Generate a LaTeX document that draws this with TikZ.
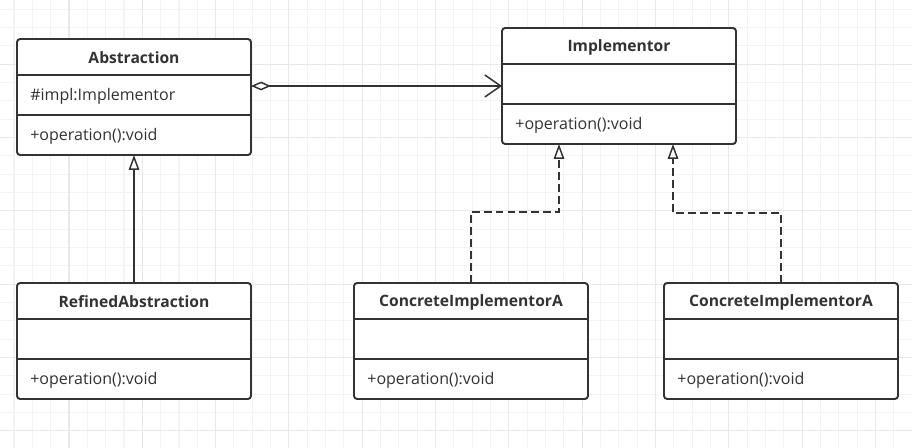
\documentclass[tikz,border=0pt]{standalone}
\usepackage{fontspec}
\setmainfont{Open Sans}
\usepackage{xcolor}
\usetikzlibrary{arrows.meta,positioning,calc}
\definecolor{inkc}{HTML}{333333}
\definecolor{gridminor}{HTML}{F3F3F3}
\definecolor{gridmajor}{HTML}{E8E8E8}
\newlength{\px}\setlength{\px}{0.02cm}

\tikzset{
  classbox/.style={draw=inkc, line width=1.1pt, rounded corners=1.8pt, fill=white,
    minimum width=234\px, minimum height=116\px, inner sep=0pt, outer sep=0pt},
  divider/.style={draw=inkc, line width=1.1pt},
  titletext/.style={font=\bfseries\fontsize{8.9}{10}\selectfont, text=inkc, inner sep=0pt},
  membertext/.style={font=\fontsize{9.1}{10}\selectfont, text=inkc, inner sep=0pt, anchor=west},
  aggr/.style={draw=inkc, line width=0.85pt,
    {Diamond[open,length=11.4pt,width=5pt]}-{Straight Barb[length=9pt,width=12.5pt]}},
  inherit/.style={draw=inkc, line width=0.85pt, -{Triangle[open,length=8.5pt,width=6pt]}},
  realize/.style={inherit, dash pattern=on 4.5pt off 2.3pt},
}

% class box: name, left, top, title, operation
\newcommand{\umlclass}[5]{%
  \node[classbox] (#1) at (#2+117,#3+58) {};
  \draw[divider] ([shift={(0,36)}]#1.north west) -- ([shift={(0,36)}]#1.north east);
  \draw[divider] ([shift={(0,76)}]#1.north west) -- ([shift={(0,76)}]#1.north east);
  \node[titletext] (#1-t) at ([shift={(0,19)}]#1.north) {#4};
  \node[membertext] (#1-o) at ([shift={(13,97)}]#1.north west) {#5};
}

\begin{document}
\begin{tikzpicture}[x=0.02cm, y=-0.02cm]
  \fill[white] (0,0) rectangle (912,448);
  \useasboundingbox (0,0) rectangle (912,448);
  % background grid
  \foreach \i in {0,...,49}
    \draw[gridminor, line width=0.6pt] (14+18.33*\i,0) -- (14+18.33*\i,448);
  \foreach \j in {0,...,23}
    \draw[gridminor, line width=0.6pt] (0,9.3+18.33*\j) -- (912,9.3+18.33*\j);
  \foreach \i in {3,7,...,47}
    \draw[gridmajor, line width=0.6pt] (14+18.33*\i,0) -- (14+18.33*\i,448);
  \foreach \j in {3,7,...,23}
    \draw[gridmajor, line width=0.6pt] (0,9.3+18.33*\j) -- (912,9.3+18.33*\j);

  \umlclass{abs}{17}{39}{Abstraction}{+operation():void}
  \node[membertext] (abs-a) at ([shift={(13,57)}]abs.north west) {\#impl:Implementor};
  \umlclass{impl}{502}{28}{Implementor}{+operation():void}
  \umlclass{refined}{17}{283}{RefinedAbstraction}{+operation():void}
  \umlclass{conca}{354}{283}{ConcreteImplementorA}{+operation():void}
  \umlclass{concb}{664}{283}{ConcreteImplementorA}{+operation():void}

  \draw[aggr] (impl.west -| abs.east) -- (impl.west);
  \draw[inherit] (refined.north) -- (abs.south);
  \draw[realize] (conca.north) -- ++(0,-71) -| ([shift={(-60,0)}]impl.south);
  \draw[realize] (concb.north) -- ++(0,-70) -| ([shift={(54,0)}]impl.south);
\end{tikzpicture}
\end{document}
